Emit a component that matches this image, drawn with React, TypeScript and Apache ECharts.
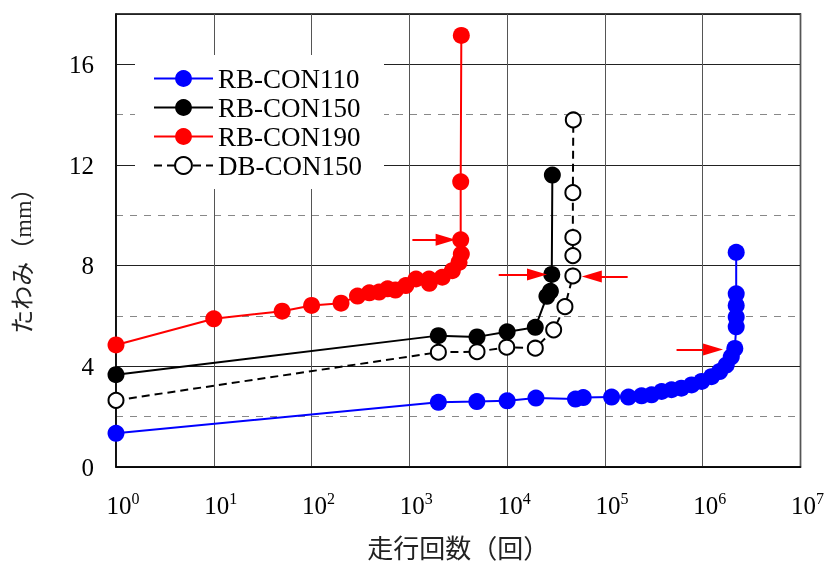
import React, { useEffect, useRef } from "react";
import * as echarts from "echarts";

const seriesNames = ["RB-CON110", "RB-CON150", "RB-CON190", "DB-CON150"];

const rb110Cycles = [1, 1980, 4900, 10000, 19700, 50000, 60000, 117000, 174000, 237000, 300000, 380000, 480000, 605000, 770000, 975000, 1230000, 1490000, 1740000, 1960000, 2130000, 2200000, 2200000, 2200000, 2200000, 2200000];
const rb110Deflection = [1.34, 2.57, 2.6, 2.63, 2.74, 2.7, 2.76, 2.78, 2.78, 2.83, 2.87, 3.0, 3.07, 3.13, 3.26, 3.4, 3.59, 3.79, 4.05, 4.38, 4.71, 5.57, 5.96, 6.42, 6.88, 8.53];

const rb150Cycles = [1, 1980, 4920, 10000, 19400, 25500, 27700, 28600, 29000];
const rb150Deflection = [3.67, 5.22, 5.17, 5.37, 5.55, 6.78, 6.98, 7.65, 11.6];

const rb190Cycles = [1, 10, 50, 100, 200, 295, 390, 490, 600, 720, 920, 1170, 1590, 1600, 2170, 2750, 3220, 3400, 3350, 3350, 3400];
const rb190Deflection = [4.85, 5.89, 6.19, 6.42, 6.51, 6.79, 6.92, 6.95, 7.08, 7.03, 7.21, 7.47, 7.47, 7.3, 7.54, 7.8, 8.13, 8.46, 9.03, 11.33, 17.15];

const db150Cycles = [1, 1980, 4920, 9900, 19400, 29900, 39000, 47000, 47000, 47000, 47000, 47500];
const db150Deflection = [2.65, 4.56, 4.58, 4.76, 4.72, 5.45, 6.37, 7.59, 8.4, 9.12, 10.9, 13.79];

// annotation arrows: [startCycles, endCycles, deflection]
const arrowStartCycles = [1074, 8200, 170800, 540000];
const arrowEndCycles = [2350, 20200, 73400, 1276000];
const arrowDeflection = [9.03, 7.65, 7.57, 4.67];

const yTickLabels = [0, 4, 8, 12, 16];
const xAxisTitle = "走行回数（回）";
const yAxisTitle = "たわみ（mm）";

const SERIF = "'Liberation Serif', 'Times New Roman', serif";
const CJK = "'Liberation Serif', 'Noto Sans CJK JP', sans-serif";

const zip = (xs: number[], ys: number[]) => xs.map((x, i) => [x, ys[i]]);

export default function App() {
  const ref = useRef<HTMLDivElement>(null);
  useEffect(() => {
    const chart = echarts.init(ref.current!, null, { renderer: "svg" });
    const mk = (name: string, xs: number[], ys: number[], color: string, fill: string, dashed: boolean, extra: any = {}) => ({
      name,
      type: "line",
      data: zip(xs, ys),
      symbol: "circle",
      symbolSize: dashed ? 15 : 17,
      lineStyle: { color, width: 2, type: dashed ? [8, 5] : "solid" },
      itemStyle: { color: fill, borderColor: color, borderWidth: dashed ? 2 : 0 },
      emphasis: { disabled: true },
      ...extra,
    });
    const option: any = {
      animation: false,
      grid: { left: 116, top: 14, width: 687, height: 457, show: true, borderColor: "#000", borderWidth: 1.5 },
      legend: {
        data: seriesNames,
        orient: "vertical",
        left: 135,
        top: 55,
        padding: [10, 22, 10, 18],
        backgroundColor: "#fff",
        itemWidth: 59,
        itemHeight: 21,
        itemGap: 2,
        selectedMode: false,
        textStyle: { fontFamily: SERIF, fontSize: 27, color: "#000" },
      },
      xAxis: {
        type: "log",
        logBase: 10,
        min: 1,
        max: 1e7,
        axisLine: { show: true, lineStyle: { color: "#000", width: 1.5 } },
        axisTick: { show: false },
        splitLine: { show: true, lineStyle: { color: "#555", width: 1 } },
        axisLabel: {
          margin: 23,
          padding: [0, 0, 0, 14],
          formatter: (v: number) => `{b|10}{s|${Math.round(Math.log10(v))}}`,
          rich: {
            b: { fontFamily: SERIF, fontSize: 25, color: "#000", lineHeight: 30 },
            s: { fontFamily: SERIF, fontSize: 16, color: "#000", verticalAlign: "top", lineHeight: 16 },
          },
        },
        name: xAxisTitle,
        nameLocation: "middle",
        nameGap: 69,
        nameTextStyle: { fontFamily: CJK, fontSize: 26, color: "#222" },
      },
      yAxis: [
        {
          type: "value",
          min: 0,
          max: 18,
          interval: 2,
          axisLine: { show: true, lineStyle: { color: "#000", width: 1.5 } },
          axisTick: { show: false },
          splitLine: { show: true, lineStyle: { color: "#888", width: 1, type: [7, 7] } },
          axisLabel: {
            margin: 22,
            fontFamily: SERIF,
            fontSize: 25,
            color: "#000",
            formatter: (v: number) => (yTickLabels.includes(v) ? String(v) : ""),
          },
        },
        {
          type: "value",
          min: 0,
          max: 18,
          interval: 4,
          position: "left",
          axisLine: { show: false },
          axisTick: { show: false },
          axisLabel: { show: false },
          splitLine: { show: true, lineStyle: { color: "#222", width: 1 } },
        },
      ],
      graphic: [
        {
          type: "text",
          x: 23,
          y: 255,
          rotation: Math.PI / 2,
          style: {
            text: yAxisTitle,
            fontFamily: CJK,
            fontSize: 24,
            fill: "#222",
            textAlign: "center",
            textVerticalAlign: "middle",
          },
        },
      ],
      series: [
        mk(seriesNames[0], rb110Cycles, rb110Deflection, "#0000ff", "#0000ff", false),
        mk(seriesNames[1], rb150Cycles, rb150Deflection, "#000000", "#000000", false),
        mk(seriesNames[2], rb190Cycles, rb190Deflection, "#ff0000", "#ff0000", false, {
          markLine: {
            silent: true,
            symbol: ["none", "triangle"],
            symbolSize: [12, 20],
            label: { show: false },
            lineStyle: { color: "#ff0000", width: 2, type: "solid" },
            emphasis: { disabled: true },
            data: arrowStartCycles.map((s, i) => [
              { coord: [s, arrowDeflection[i]] },
              { coord: [arrowEndCycles[i], arrowDeflection[i]] },
            ]),
          },
        }),
        mk(seriesNames[3], db150Cycles, db150Deflection, "#000000", "#ffffff", true),
      ],
    };
    chart.setOption(option);
    return () => chart.dispose();
  }, []);
  return <div ref={ref} style={{ position: "fixed", left: 0, top: 0, width: 827, height: 567 }} />;
}
